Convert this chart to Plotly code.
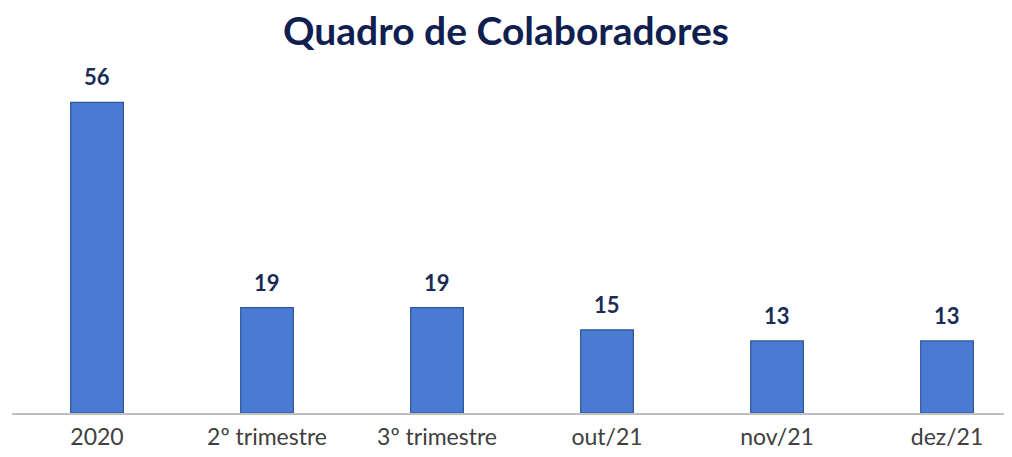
import plotly.graph_objects as go

categories = ["2020", "2º trimestre", "3º trimestre", "out/21", "nov/21", "dez/21"]
values = [56, 19, 19, 15, 13, 13]
title_text = "Quadro de Colaboradores"

FONT = "Lato, Open Sans, sans-serif"

fig = go.Figure()
fig.add_trace(go.Bar(
    x=categories,
    y=values,
    width=0.31,
    marker=dict(color="#4A7BD2", line=dict(color="#2F559A", width=1.2)),
    hoverinfo="x+y",
))

for i, v in enumerate(values):
    fig.add_annotation(
        x=i, y=v, text=f"<b>{v}</b>", showarrow=False,
        yanchor="bottom", yshift=10,
        font=dict(family=FONT, size=22, color="#1A2B55"),
    )

fig.update_layout(
    width=996, height=441,
    margin=dict(l=4, r=0, t=20, b=36),
    paper_bgcolor="white", plot_bgcolor="white",
    title=dict(
        text=f"<b>{title_text}</b>",
        x=0.5, xanchor="center", y=1 - 23 / 441, yanchor="middle",
        font=dict(family=FONT, size=39, color="#0F2050"),
    ),
    showlegend=False,
)
fig.update_xaxes(
    type="category",
    range=[-0.5, 5.335],
    automargin=False,
    showline=True, linecolor="#BFBFBF", linewidth=1.5,
    showgrid=False, ticks="",
    ticklabelstandoff=3,
    tickfont=dict(family=FONT, size=23, color="#404040"),
)
fig.update_yaxes(
    range=[0, 69.4],
    visible=False, showgrid=False, zeroline=False,
)

fig.write_html("out.html")
